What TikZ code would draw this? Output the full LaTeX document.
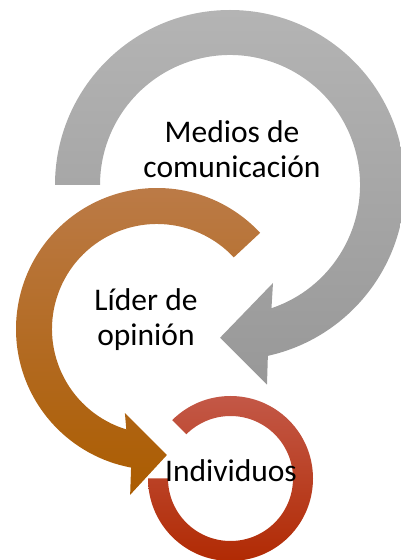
\documentclass[tikz,border=0pt]{standalone}
\usepackage{fontspec}
\setmainfont{Carlito}
\usepackage{xcolor}
\usepackage{tikz}
\definecolor{graytop}{RGB}{180,180,180}
\definecolor{graybot}{RGB}{152,152,152}
\definecolor{ochretop}{RGB}{188,124,74}
\definecolor{ochrebot}{RGB}{171,92,0}
\definecolor{redtop}{RGB}{196,90,74}
\definecolor{redbot}{RGB}{176,40,0}

\begin{document}
\begin{tikzpicture}[x=1pt, y=1pt,
    label text/.style={inner sep=0pt, align=center, font=\fontsize{31.5}{35}\selectfont}]
    \useasboundingbox (0,0) rectangle (401,560);

    % Ring 1: Medios de comunicacion
    \begin{scope}[shift={(230,375)}]
        \path[top color=graytop, bottom color=graybot]
            (180:175) arc[start angle=180, end angle=-77.5, radius=175]
            -- (-79.5:203) -- (-93.7:153) -- (-66.3:107)
            -- (-71.4:130) arc[start angle=-71.4, end angle=180, radius=130] -- cycle;
    \end{scope}

    % Ring 3: Individuos
    \begin{scope}[shift={(230.5,81.5)}]
        \path[top color=redtop, bottom color=redbot]
            (135:82.5) arc[start angle=135, end angle=-180, radius=82.5]
            -- (180:62.5) arc[start angle=-180, end angle=135, radius=62.5] -- cycle;
    \end{scope}

    % Ring 2: Lider de opinion
    \begin{scope}[shift={(157,231)}]
        \path[top color=ochretop, bottom color=ochrebot]
            (43:141) arc[start angle=43, end angle=259.4, radius=141]
            -- (260.8:168) -- (274.5:126.4) -- (249.1:90)
            -- (253:105) arc[start angle=253, end angle=43, radius=105] -- cycle;
    \end{scope}

    % Labels
    \node[label text] (medios) at (232,410.5) {Medios de\\comunicación};
    \node[label text] (lider) at (146,240.5) {Líder de\\opinión};
    \node[label text, anchor=base] (individuos) at (231,78) {Individuos};
\end{tikzpicture}
\end{document}
